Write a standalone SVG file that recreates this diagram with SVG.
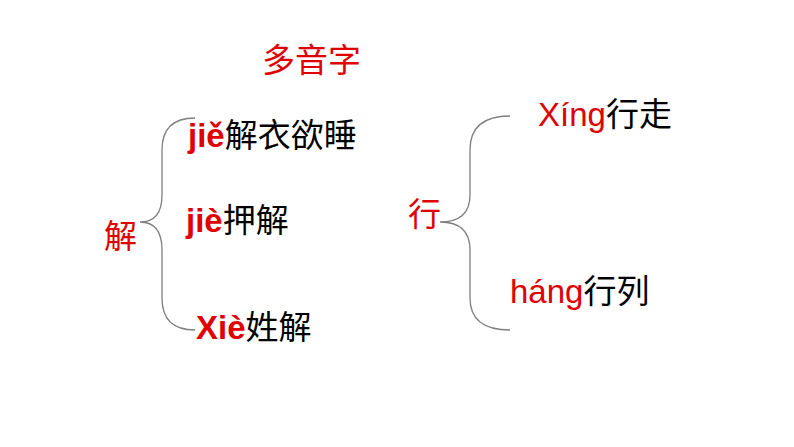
<svg xmlns="http://www.w3.org/2000/svg" width="794" height="447" viewBox="0 0 794 447">
<style>
text{font-family:"Liberation Sans","Noto Sans CJK SC",sans-serif;font-size:33px}
.r{fill:#e00000}.k{fill:#000}.b{font-weight:bold}
.brace{fill:none;stroke:#7f7f7f;stroke-width:1.3}
</style>
<rect width="794" height="447" fill="#fff"/>
<text x="262" y="72" class="r" font-size="31">多音字</text>
<g id="connectors">
<path class="brace" d="M195,118 Q162,118 162,150 L162,195 Q162,222 140,222 Q162,222 162,250 L162,298 Q162,330 195,330"/>
<path class="brace" d="M510,116 Q470,116 470,150 L470,195 Q470,222 440,222 Q470,222 470,250 L470,298 Q470,330 510,330"/>
</g>
<g id="n_jie"><text x="104" y="248" class="r">解</text></g>
<g id="n_jie1"><text x="188" y="147"><tspan class="r b">jiě</tspan><tspan class="k">解衣欲睡</tspan></text></g>
<g id="n_jie2"><text x="186" y="232"><tspan class="r b">jiè</tspan><tspan class="k">押解</tspan></text></g>
<g id="n_xie"><text x="196" y="339"><tspan class="r b">Xiè</tspan><tspan class="k">姓解</tspan></text></g>
<g id="n_xing"><text x="408" y="226" class="r">行</text></g>
<g id="n_xing1"><text x="538" y="126"><tspan class="r">Xíng</tspan><tspan class="k">行走</tspan></text></g>
<g id="n_hang"><text x="510" y="303"><tspan class="r">háng</tspan><tspan class="k">行列</tspan></text></g>
</svg>
